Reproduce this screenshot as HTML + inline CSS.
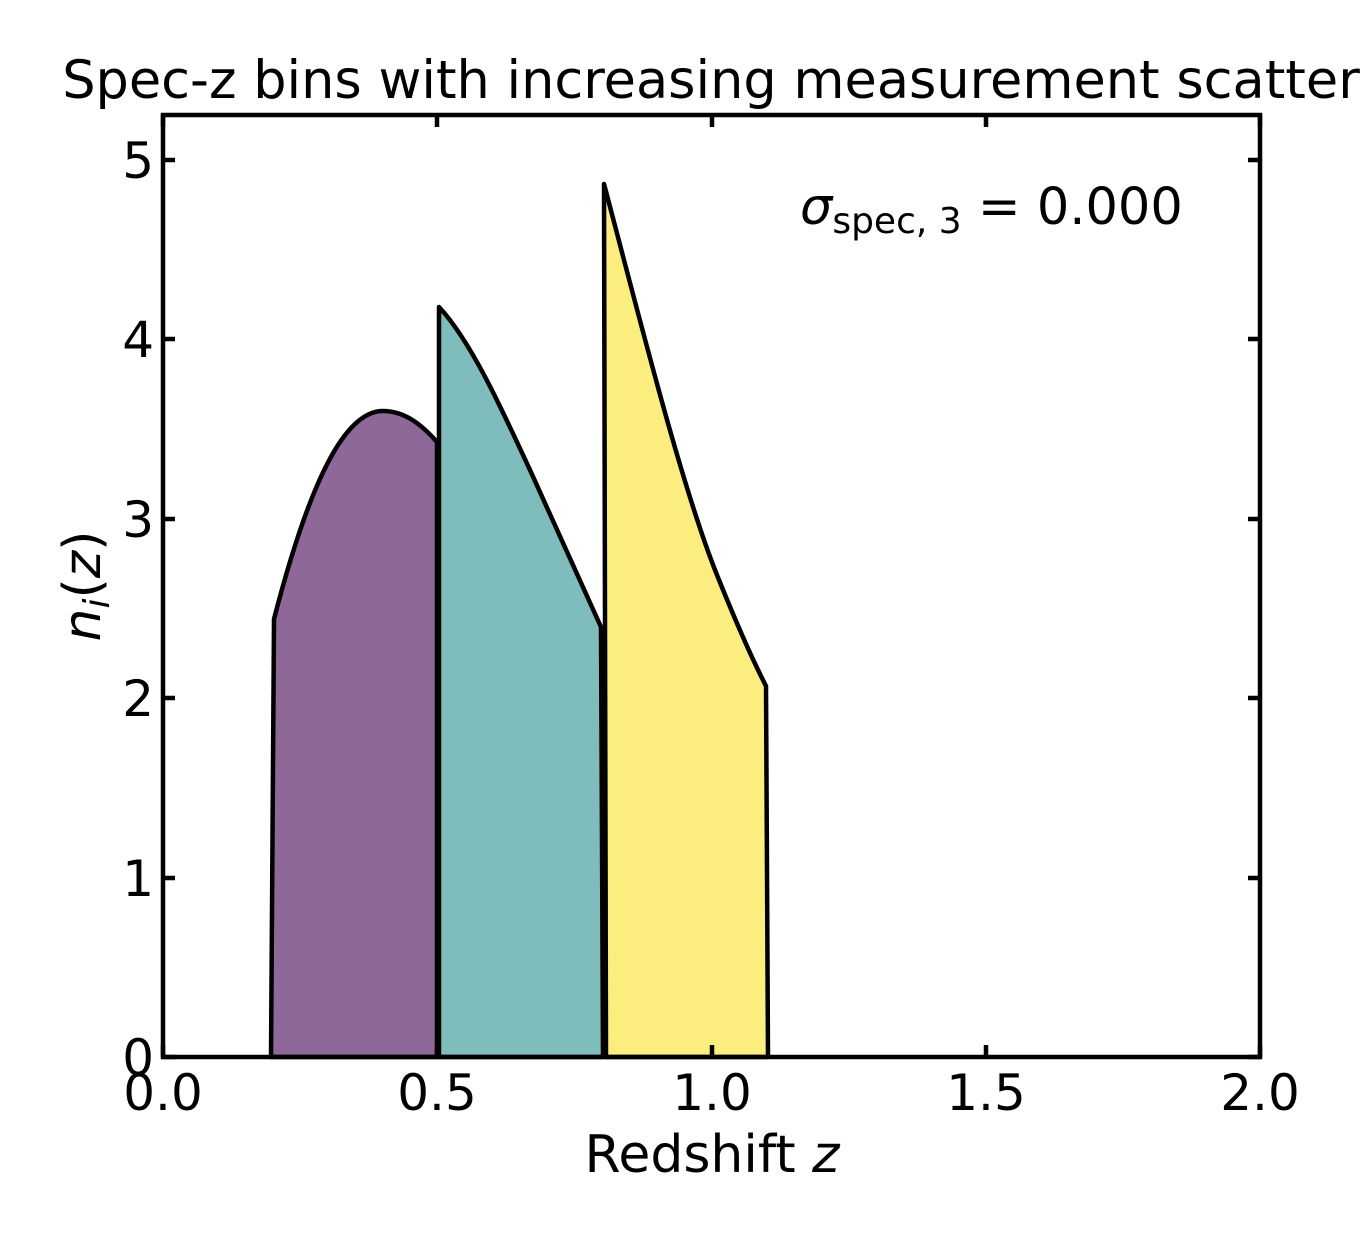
<!DOCTYPE html>
<html><head><style>body{margin:0;background:#fff}</style></head><body>
<svg width="1360" height="1240" xmlns="http://www.w3.org/2000/svg" font-family="DejaVu Sans, Liberation Sans, sans-serif">
<rect width="1360" height="1240" fill="#fff"/>
<g stroke="#000" stroke-width="4.5" stroke-linejoin="round">
<path d="M271,1057 L274,619 C310,480 345,411 383,411 C405,411 422,425 437,442 L437,1057 Z" fill="#8e6898"/>
<path d="M439,1057 L439,307 C470,340 500,405 530,470 L601,627 L603,1057 Z" fill="#7ebdbc"/>
<path d="M606,1057 L604,184 C640,320 680,480 715,570 C735,620 750,655 766,686 L768,1057 Z" fill="#fcee7e"/>
</g>
<rect x="163" y="115" width="1097" height="942" fill="none" stroke="#000" stroke-width="4.5"/>
<g stroke="#000" stroke-width="4.5">
<path d="M163,1057v-12M437,1057v-12M712,1057v-12M986,1057v-12M1260,1057v-12M163,115v12M437,115v12M712,115v12M986,115v12M1260,115v12"/>
<path d="M163,1057h12M163,878h12M163,698h12M163,519h12M163,339h12M163,160h12M1260,1057h-12M1260,878h-12M1260,698h-12M1260,519h-12M1260,339h-12M1260,160h-12"/>
</g>
<g font-size="50" fill="#000">
<g text-anchor="middle">
<text x="163" y="1110">0.0</text><text x="437" y="1110">0.5</text><text x="712" y="1110">1.0</text><text x="986" y="1110">1.5</text><text x="1260" y="1110">2.0</text>
</g>
<g text-anchor="end">
<text x="154" y="1075">0</text><text x="154" y="896">1</text><text x="154" y="716">2</text><text x="154" y="537">3</text><text x="154" y="357">4</text><text x="154" y="178">5</text>
</g>
<text x="712" y="1172" text-anchor="middle" font-size="52">Redshift <tspan font-style="italic">z</tspan></text>
<text transform="translate(100,586) rotate(-90)" text-anchor="middle" font-style="italic" font-size="52">n<tspan font-size="36" dy="9">i</tspan><tspan dy="-9" font-style="normal">(</tspan>z<tspan font-style="normal">)</tspan></text>
<text x="711" y="98" text-anchor="middle" font-size="52.5">Spec-z bins with increasing measurement scatter</text>
<text x="800" y="224" font-size="51"><tspan font-style="italic">σ</tspan><tspan font-size="36" dy="9">spec, 3</tspan><tspan dy="-9"> = 0.000</tspan></text>
</g>
</svg>
</body></html>
